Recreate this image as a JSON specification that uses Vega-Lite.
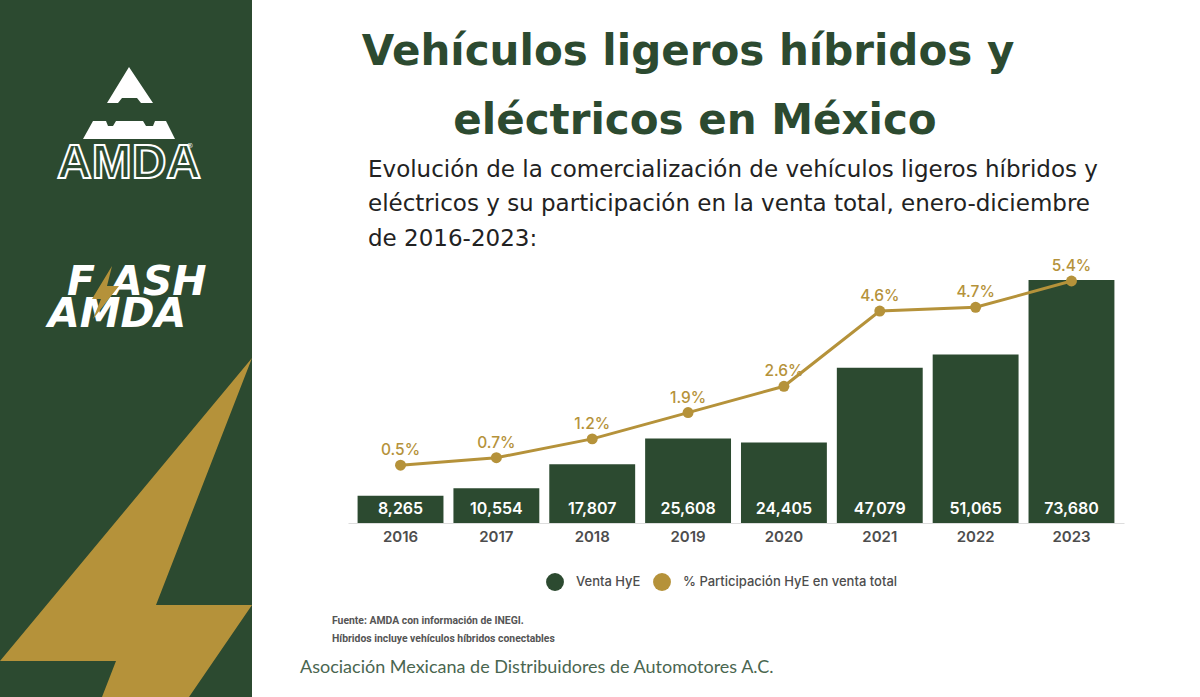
{
  "$schema": "https://vega.github.io/schema/vega-lite/v6.json",
  "padding": 0,
  "spacing": 0,
  "background": "white",
  "config": {"view": {"stroke": null}, "font": "DejaVu Sans"},
  "datasets": {
    "ventas": [
      {"anio": "2016", "serie": "Venta HyE", "valor": 8265},
      {"anio": "2017", "serie": "Venta HyE", "valor": 10554},
      {"anio": "2018", "serie": "Venta HyE", "valor": 17807},
      {"anio": "2019", "serie": "Venta HyE", "valor": 25608},
      {"anio": "2020", "serie": "Venta HyE", "valor": 24405},
      {"anio": "2021", "serie": "Venta HyE", "valor": 47079},
      {"anio": "2022", "serie": "Venta HyE", "valor": 51065},
      {"anio": "2023", "serie": "Venta HyE", "valor": 73680}
    ],
    "participacion": [
      {"anio": "2016", "serie": "% Participación HyE en venta total", "valor": 0.5, "etiqueta": "0.5%"},
      {"anio": "2017", "serie": "% Participación HyE en venta total", "valor": 0.7, "etiqueta": "0.7%"},
      {"anio": "2018", "serie": "% Participación HyE en venta total", "valor": 1.2, "etiqueta": "1.2%"},
      {"anio": "2019", "serie": "% Participación HyE en venta total", "valor": 1.9, "etiqueta": "1.9%"},
      {"anio": "2020", "serie": "% Participación HyE en venta total", "valor": 2.6, "etiqueta": "2.6%"},
      {"anio": "2021", "serie": "% Participación HyE en venta total", "valor": 4.6, "etiqueta": "4.6%"},
      {"anio": "2022", "serie": "% Participación HyE en venta total", "valor": 4.7, "etiqueta": "4.7%"},
      {"anio": "2023", "serie": "% Participación HyE en venta total", "valor": 5.4, "etiqueta": "5.4%"}
    ]
  },
  "hconcat": [
    {
      "width": 252,
      "height": 697,
      "view": {"fill": "#2c4a30", "stroke": null},
      "projection": {"type": "identity", "scale": 1, "translate": [0, 0]},
      "layer": [
        {
          "data": {"values": [
            {"type": "Feature", "properties": {"nombre": "rayo"}, "geometry": {"type": "Polygon", "coordinates": [[[252, 358], [156, 605], [252, 605], [189, 697], [102, 697], [116, 661], [0, 661], [252, 358]]]}}
          ]},
          "mark": {"type": "geoshape", "fill": "#b5923a", "stroke": null}
        },
        {
          "data": {"values": [
            {"type": "Feature", "properties": {"nombre": "pico"}, "geometry": {"type": "Polygon", "coordinates": [[[129, 67], [107, 103], [118, 103], [122, 98], [137, 98], [141, 103], [153, 103], [129, 67]]]}},
            {"type": "Feature", "properties": {"nombre": "base"}, "geometry": {"type": "Polygon", "coordinates": [[[93, 121], [106, 121], [108, 126], [113, 126], [116, 121], [143, 121], [146, 126], [153, 126], [155, 121], [166, 121], [175, 139], [83, 139], [93, 121]]]}}
          ]},
          "mark": {"type": "geoshape", "fill": "white", "stroke": null}
        },
        {
          "data": {"values": [{"t": "AMDA"}]},
          "mark": {"type": "text", "x": 129, "y": 164, "align": "center", "baseline": "middle", "font": "Liberation Sans", "fontWeight": "bold", "fontSize": 48, "fill": "#2c4a30", "stroke": "white", "strokeWidth": 2},
          "encoding": {"text": {"field": "t"}}
        },
        {
          "data": {"values": [{"t": "®"}]},
          "mark": {"type": "text", "x": 190, "y": 146, "align": "center", "baseline": "middle", "fontSize": 7, "fill": "white"},
          "encoding": {"text": {"field": "t"}}
        },
        {
          "data": {"values": [{"t": "F"}]},
          "mark": {"type": "text", "x": 67, "y": 283, "align": "left", "baseline": "middle", "fontWeight": "bold", "fontStyle": "italic", "fontSize": 41, "fill": "white"},
          "encoding": {"text": {"field": "t"}}
        },
        {
          "data": {"values": [{"t": "ASH"}]},
          "mark": {"type": "text", "x": 111, "y": 283, "align": "left", "baseline": "middle", "fontWeight": "bold", "fontStyle": "italic", "fontSize": 41, "fill": "white"},
          "encoding": {"text": {"field": "t"}}
        },
        {
          "data": {"values": [{"t": "AMDA"}]},
          "mark": {"type": "text", "x": 48, "y": 315, "align": "left", "baseline": "middle", "fontWeight": "bold", "fontStyle": "italic", "fontSize": 41, "fill": "white"},
          "encoding": {"text": {"field": "t"}}
        },
        {
          "data": {"values": [
            {"type": "Feature", "properties": {"nombre": "rayo flash"}, "geometry": {"type": "Polygon", "coordinates": [[[112, 266], [92, 299], [101, 299], [93, 319], [119, 286], [107, 286], [112, 266]]]}}
          ]},
          "mark": {"type": "geoshape", "fill": "#b5923a", "stroke": null}
        }
      ]
    },
    {
      "width": 948,
      "height": 697,
      "resolve": {"scale": {"y": "independent", "color": "independent"}},
      "encoding": {
        "x": {
          "field": "anio",
          "type": "nominal",
          "title": null,
          "scale": {"range": [96, 872], "paddingInner": 0.104, "paddingOuter": 0.1},
          "axis": {"offset": -174, "labelAngle": 0, "ticks": false, "grid": false, "domainColor": "#dddddd", "labelColor": "#4d4d4d", "labelFont": "Inter", "labelFontSize": 15, "labelFontWeight": 600, "labelPadding": 6}
        }
      },
      "layer": [
        {
          "data": {"name": "ventas"},
          "mark": {"type": "bar"},
          "encoding": {
            "y": {"field": "valor", "type": "quantitative", "axis": null, "scale": {"domain": [0, 73680], "range": [523, 280]}},
            "color": {"field": "serie", "type": "nominal", "legend": null, "scale": {"range": ["#2c4a30"]}}
          }
        },
        {
          "data": {"name": "ventas"},
          "mark": {"type": "text", "color": "white", "font": "Inter", "fontWeight": 600, "fontSize": 16, "baseline": "middle", "dy": -14},
          "encoding": {
            "y": {"datum": 0, "type": "quantitative", "axis": null, "scale": {"domain": [0, 73680], "range": [523, 280]}},
            "text": {"field": "valor", "type": "quantitative", "format": ","}
          }
        },
        {
          "data": {"name": "participacion"},
          "mark": {"type": "line", "color": "#b5923a", "strokeWidth": 3},
          "encoding": {
            "y": {"field": "valor", "type": "quantitative", "axis": null, "scale": {"domain": [0, 5.4], "range": [484, 281]}}
          }
        },
        {
          "data": {"name": "participacion"},
          "mark": {"type": "point", "filled": true, "opacity": 1, "size": 120, "shape": "circle"},
          "encoding": {
            "y": {"field": "valor", "type": "quantitative", "axis": null, "scale": {"domain": [0, 5.4], "range": [484, 281]}},
            "color": {
              "field": "serie",
              "type": "nominal",
              "scale": {"domain": ["Venta HyE", "% Participación HyE en venta total"], "range": ["#2c4a30", "#b5923a"]},
              "legend": {"orient": "none", "legendX": 293, "legendY": 572, "direction": "horizontal", "title": null, "symbolType": "circle", "symbolSize": 320, "labelFont": "Inter", "labelFontSize": 13, "labelFontWeight": 500, "labelColor": "#4d4d4d", "labelOffset": 11, "labelLimit": 300, "columnPadding": 11, "symbolOpacity": 1}
            }
          }
        },
        {
          "data": {"name": "participacion"},
          "mark": {"type": "text", "color": "#b5923a", "font": "Inter", "fontSize": 15.5, "fontWeight": 500, "baseline": "middle", "dy": -15},
          "encoding": {
            "y": {"field": "valor", "type": "quantitative", "axis": null, "scale": {"domain": [0, 5.4], "range": [484, 281]}},
            "text": {"field": "etiqueta"}
          }
        },
        {
          "data": {"values": [{"t": "Vehículos ligeros híbridos y"}]},
          "mark": {"type": "text", "x": 436, "y": 52, "align": "center", "baseline": "middle", "fontWeight": "bold", "fontSize": 42, "color": "#2c4a30"},
          "encoding": {"x": null, "text": {"field": "t"}}
        },
        {
          "data": {"values": [{"t": "eléctricos en México"}]},
          "mark": {"type": "text", "x": 443, "y": 121, "align": "center", "baseline": "middle", "fontWeight": "bold", "fontSize": 42, "color": "#2c4a30"},
          "encoding": {"x": null, "text": {"field": "t"}}
        },
        {
          "data": {"values": [{"t": "Evolución de la comercialización de vehículos ligeros híbridos y"}]},
          "mark": {"type": "text", "x": 116, "y": 170, "align": "left", "baseline": "middle", "fontSize": 23, "color": "#222222"},
          "encoding": {"x": null, "text": {"field": "t"}}
        },
        {
          "data": {"values": [{"t": "eléctricos y su participación en la venta total, enero-diciembre"}]},
          "mark": {"type": "text", "x": 116, "y": 204, "align": "left", "baseline": "middle", "fontSize": 23, "color": "#222222"},
          "encoding": {"x": null, "text": {"field": "t"}}
        },
        {
          "data": {"values": [{"t": "de 2016-2023:"}]},
          "mark": {"type": "text", "x": 116, "y": 239, "align": "left", "baseline": "middle", "fontSize": 23, "color": "#222222"},
          "encoding": {"x": null, "text": {"field": "t"}}
        },
        {
          "data": {"values": [{"t": "Fuente: AMDA con información de INEGI."}]},
          "mark": {"type": "text", "x": 80, "y": 621, "align": "left", "baseline": "middle", "font": "Roboto", "fontWeight": "bold", "fontSize": 10.4, "color": "#555555"},
          "encoding": {"x": null, "text": {"field": "t"}}
        },
        {
          "data": {"values": [{"t": "Híbridos incluye vehículos híbridos conectables"}]},
          "mark": {"type": "text", "x": 80, "y": 639, "align": "left", "baseline": "middle", "font": "Roboto", "fontWeight": "bold", "fontSize": 10.4, "color": "#555555"},
          "encoding": {"x": null, "text": {"field": "t"}}
        },
        {
          "data": {"values": [{"t": "Asociación Mexicana de Distribuidores de Automotores A.C."}]},
          "mark": {"type": "text", "x": 48, "y": 668, "align": "left", "baseline": "middle", "font": "Lato", "fontSize": 18, "color": "#4a6650"},
          "encoding": {"x": null, "text": {"field": "t"}}
        }
      ]
    }
  ]
}
